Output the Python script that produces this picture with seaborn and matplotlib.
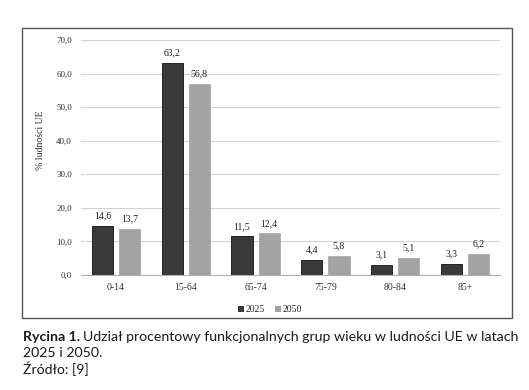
import matplotlib
matplotlib.use("Agg")
import matplotlib.pyplot as plt
import seaborn as sns
import pandas as pd
from matplotlib.patches import Rectangle, Patch

categories = ["0-14", "15-64", "65-74", "75-79", "80-84", "85+"]
years = ["2025", "2050"]
values_2025 = [14.6, 63.2, 11.5, 4.4, 3.1, 3.3]
values_2050 = [13.7, 56.8, 12.4, 5.8, 5.1, 6.2]
yticks = [0, 10, 20, 30, 40, 50, 60, 70]

df = pd.DataFrame({
    "grupa": categories * 2,
    "rok": [years[0]] * len(categories) + [years[1]] * len(categories),
    "wartosc": values_2025 + values_2050,
})

sns.set_theme(style="white")
plt.rcParams["font.family"] = ["Liberation Serif", "DejaVu Serif"]

W, H = 529, 390
fig = plt.figure(figsize=(W / 100, H / 100), dpi=100)

def fx(px):
    return px / W

def fy(py):
    return 1 - py / H

# chart frame
fig.patches.append(Rectangle((fx(22), fy(318)), fx(512) - fx(22), fy(28) - fy(318),
                             transform=fig.transFigure, fill=False,
                             edgecolor="#555555", linewidth=1.0))

ax = fig.add_axes([fx(81), fy(275), fx(500) - fx(81), fy(40) - fy(275)])
palette = {"2025": "#3a3a3a", "2050": "#a3a3a3"}
sns.barplot(data=df, x="grupa", y="wartosc", hue="rok", order=categories,
            hue_order=years, palette=palette, width=0.775, gap=0.22,
            ax=ax, legend=False, saturation=1)

for i, cont in enumerate(ax.containers):
    for bar in cont:
        if i == 0:
            bar.set_edgecolor("#111111")
            bar.set_linewidth(0.6)
        else:
            bar.set_edgecolor("#999999")
            bar.set_linewidth(0.4)
    ax.bar_label(cont, labels=[f"{v:.1f}".replace(".", ",") for v in cont.datavalues],
                 padding=4, fontsize=7, color="#222222")

ax.set_ylim(0, 70)
ax.set_yticks(yticks)
ax.set_yticklabels([f"{v:.1f}".replace(".", ",") for v in yticks], fontsize=6.5, color="#333333")
ax.tick_params(axis="y", length=0, pad=6.5)
ax.tick_params(axis="x", length=0, pad=6, labelsize=7, labelcolor="#333333")
ax.set_xlim(-0.5, len(categories) - 0.5)
ax.yaxis.grid(True, color="#d4d4d4", linewidth=0.8)
ax.set_axisbelow(True)
for s in ["top", "right", "left"]:
    ax.spines[s].set_visible(False)
ax.spines["bottom"].set_color("#b0b0b0")
ax.spines["bottom"].set_linewidth(0.8)
ax.set_xlabel("")
ax.set_ylabel("% ludności UE", fontsize=7, color="#333333")
axw = fx(500) - fx(81)
axh = fy(40) - fy(275)
ax.yaxis.set_label_coords((fx(45) - fx(81)) / axw, (fy(140) - fy(275)) / axh)

handles = [Patch(facecolor=palette[y], edgecolor="none") for y in years]
fig.legend(handles, years, loc="center", bbox_to_anchor=(fx(270), fy(310)),
           ncol=2, frameon=False, fontsize=7, handlelength=0.6, handleheight=0.6,
           handletextpad=0.2, columnspacing=1.0)

# caption
cap_font = ["Lato", "DejaVu Sans"]
cap_size = 10.2
fig.canvas.draw()
r = fig.canvas.get_renderer()
t1 = fig.text(fx(23), fy(337), "Rycina 1.", fontsize=cap_size, fontweight="bold",
              family=cap_font, color="#1a1a1a", va="center", ha="left")
bb = t1.get_window_extent(renderer=r)
fig.text(bb.x1 / W + fx(3), fy(337), "Udział procentowy funkcjonalnych grup wieku w ludności UE w latach",
         fontsize=cap_size, family=cap_font, color="#1a1a1a", va="center", ha="left")
fig.text(fx(23), fy(353), "2025 i 2050.", fontsize=cap_size, family=cap_font,
         color="#1a1a1a", va="center", ha="left")
fig.text(fx(23), fy(369), "Źródło: [9]", fontsize=cap_size, family=cap_font,
         color="#1a1a1a", va="center", ha="left")

fig.savefig("out.png", dpi=100)
